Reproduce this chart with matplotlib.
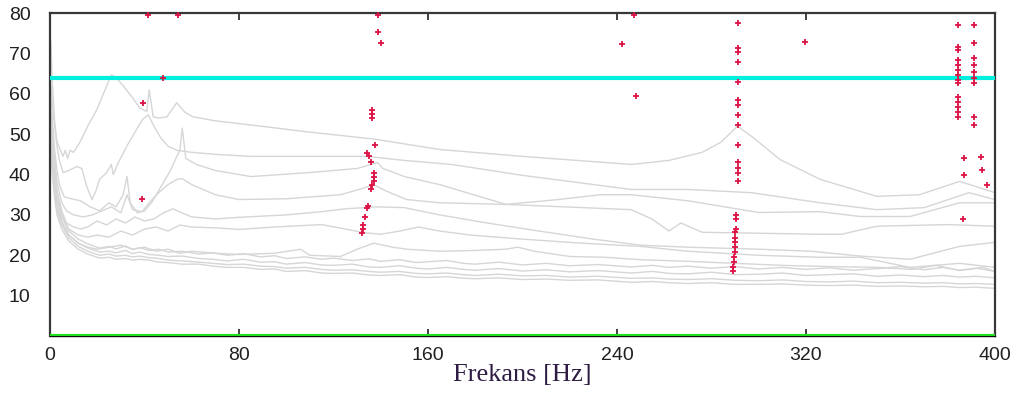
import matplotlib
matplotlib.use("Agg")
import matplotlib.pyplot as plt

# grey spectra (frequency Hz, level)
f1 = [0.4, 1, 2, 3, 4.5, 5.5, 6.5, 7.5, 8.5, 10, 12.7, 16, 19.8, 23, 26, 28, 31, 35, 38, 41, 42, 43.7, 46, 49.5,
      53.7, 57, 60.5, 70, 77.5, 89, 110, 137, 165, 200, 246, 262, 276, 284, 291, 298, 309, 326, 350, 368, 385, 392, 400]
v1 = [73, 63, 53, 48, 46, 44.5, 46, 44, 46, 45.5, 48, 52, 56, 60.5, 64.7, 64, 62, 59, 56.5, 55.6, 61, 54.3, 54, 54.3,
      57.8, 55.5, 54.3, 53.3, 52.8, 52, 50.5, 48.8, 46.2, 44.5, 42.5, 43.5, 45.5, 48, 52, 49, 43.7, 38.8, 34.6, 35, 38.3, 37, 35.5]

f2 = [0.4, 1, 2, 3, 4, 5.6, 8, 11.4, 13.5, 15.6, 17.8, 19.5, 21, 24, 26, 26.8, 29, 32.5, 36, 39, 41.6, 44, 47, 50,
      53.7, 60, 70, 85, 110, 134, 150, 170, 200, 246, 270, 297, 326, 350, 370, 389, 400]
v2 = [62, 58, 52, 47, 43.5, 40.5, 41, 42, 41.5, 37, 33.8, 36, 38.8, 40.5, 42.5, 40, 43, 47, 50.5, 53.5, 54.8, 52, 49, 47,
      46, 45.5, 45, 44.5, 44.5, 44.5, 43.5, 42.5, 39.8, 36.3, 36.3, 35.5, 33, 31.3, 31.8, 35.5, 33.8]

f3 = [0.4, 1, 2, 3, 4, 6, 9, 13, 17, 21, 25, 28, 31, 32.6, 34, 37, 40, 43, 47, 51, 53.7, 55, 56, 57.5, 62, 70, 85,
      110, 130, 136, 138.5, 141, 150, 165, 193, 246, 255, 262, 267, 276, 326, 335, 350, 380, 400]
v3 = [60, 54, 46, 41, 37.5, 34.5, 34, 33.5, 32, 31, 33, 32, 35, 39.5, 33, 30.5, 31, 33, 37, 41, 44.5, 46, 51.5, 44, 42.5, 41, 39.5,
      40.5, 41.5, 42.5, 43, 41.5, 39.5, 37.5, 32.6, 31.3, 28.9, 26, 28, 25.7, 25.2, 25.2, 27.2, 27.6, 27.2]

f4 = [0.4, 1, 2, 3, 5, 7, 10, 14, 18, 22, 26, 30, 32.6, 35, 39, 42, 46, 50, 53.7, 56, 60, 70, 80, 100, 123, 132, 137,
      142, 151, 165, 193, 215, 233, 246, 270, 300, 326, 343, 364, 385, 400]
v4 = [58, 52, 44, 38, 33, 31, 30, 29.5, 30, 31, 32, 30.5, 35, 31.3, 30.8, 33, 35.5, 37.5, 38.8, 39, 37.5, 35, 33.8, 34, 35, 36.5, 37.5,
      36, 33.8, 33, 32.6, 33.8, 35, 35, 33.5, 30.6, 30.8, 29.6, 29.6, 33, 33]

f5 = [0.4, 1, 2, 3, 5, 7, 10, 13, 16, 20, 24, 28, 32, 36, 40, 44, 48, 52, 56, 60, 70, 80, 100, 115, 125, 138, 150, 165,
      185, 207, 230, 250, 270, 300, 322, 343, 364, 385, 400]
v5 = [55, 50, 42, 36, 31, 28, 27, 26.5, 27, 28.5, 27.5, 29, 28, 29.5, 28.5, 29, 30.5, 31.5, 30.5, 29.5, 29, 29.4, 30, 30.8, 31.5, 32, 31.8, 30,
      28, 26, 24, 22.5, 22, 21.5, 21, 19.8, 19, 22.2, 23.2]

f6 = [0.4, 1, 2, 3, 5, 8, 12, 16, 20, 25, 30, 35, 40, 45, 50, 55, 60, 70, 80, 95, 115, 125, 133, 140, 148, 156, 165, 178,
      200, 225, 250, 270, 300, 326, 343, 364, 385, 400]
v6 = [52, 47, 40, 35, 30, 26.5, 25, 24.5, 25, 24.5, 26, 25, 26.5, 27, 26, 27.5, 27, 26.8, 26.4, 27, 27.6, 26.5, 25.6, 25.2, 26, 27, 26, 25,
      24, 23, 22.2, 21, 20, 19.5, 19.5, 17, 18, 17]

f7 = [0.4, 1, 2, 3, 5, 8, 12, 16, 20, 25, 30, 35, 40, 45, 50, 55, 60, 70, 80, 95, 106, 110, 123, 130, 137, 145, 151, 165,
      180, 193, 198, 205, 220, 235, 250, 270, 290, 310, 330, 350, 365, 375, 385, 395, 400]
v7 = [50, 44, 37, 32, 28, 25, 23, 22, 21.5, 22, 22.5, 21.5, 22, 21, 21.5, 20.5, 21, 20.5, 20.2, 20.5, 21.5, 20, 19.7, 21.5, 23, 22, 21.5, 21,
      21.2, 21.5, 22, 21, 19.7, 19.5, 18.9, 18.5, 18, 17.5, 17.2, 17, 16.5, 17.5, 16.2, 17, 16]

f_low = [0.4, 1, 2, 3, 5, 8, 12, 16, 21, 25, 28, 32, 35, 38, 42, 46, 50, 56, 63, 69, 75, 82, 89, 95, 100, 108, 115,
         120, 128, 135, 140, 148, 155, 160, 168, 175, 180, 190, 200, 210, 220, 232, 246, 255, 262, 270, 280, 290, 300,
         310, 320, 330, 340, 350, 360, 370, 378, 385, 392, 400]
v8 = [52, 46, 38.5, 34, 29.5, 26, 24, 22.8, 21.8, 22.2, 21.6, 22.3, 21.4, 21.9, 21.2, 21.5, 20.8, 21, 20.3, 20.6, 20,
      20.4, 19.6, 19.9, 19.2, 19.6, 19, 19.3, 18.7, 19.1, 18.5, 18.9, 18.2, 18.4, 18.7, 18, 17.8, 18.3, 17.6, 18, 17.4,
      17.7, 17.1, 17.5, 17, 17.3, 16.8, 17.2, 16.6, 17, 16.5, 16.9, 16.3, 16.7, 17.2, 16.4, 17, 16.3, 16.8, 16]
v9 = [50, 44, 37, 32.5, 28.5, 25, 23, 21.8, 20.8, 21, 20.6, 21.2, 20.4, 20.8, 20.2, 20, 19.7, 19.8, 19.2, 19, 18.6,
      19, 18.3, 18.4, 17.8, 18.2, 17.6, 17.5, 17.8, 17.1, 17, 17.4, 16.8, 16.6, 17, 16.5, 16.3, 16.7, 16.1, 16.4, 15.9,
      16.2, 15.6, 16, 15.5, 15.4, 15.8, 15.2, 15.3, 15.6, 15, 15.2, 15.4, 14.8, 15.1, 14.7, 15, 14.6, 14.8, 14.4]
v10 = [47, 42, 35.5, 31, 27.5, 24.3, 22.2, 21, 20, 20.3, 19.8, 20, 19.6, 19.8, 19.4, 19.2, 18.8, 18.6, 18.3, 18, 17.7,
       17.8, 17.3, 17.2, 16.8, 17, 16.5, 16.3, 16.4, 16, 15.8, 16, 15.5, 15.4, 15.6, 15.2, 15, 15.3, 14.9, 15, 14.6,
       14.8, 14.3, 14.4, 14.1, 14, 14.2, 13.8, 13.7, 13.9, 13.5, 13.4, 13.6, 13.2, 13.3, 13.1, 13.2, 12.9, 13, 12.8]
v11 = [45, 40, 34, 30, 26.5, 23.5, 21.5, 20.3, 19.3, 19.5, 19, 19.2, 18.8, 19, 18.8, 18.3, 18.2, 17.8, 17.8, 17.3, 17,
       17, 16.5, 16.6, 16, 16.2, 15.6, 15.5, 15.6, 15.1, 15, 15.2, 14.6, 14.5, 14.7, 14.3, 14.2, 14.4, 14, 14.1, 13.8,
       13.9, 13.3, 13.5, 13.2, 13, 13.2, 12.8, 12.8, 12.9, 12.6, 12.5, 12.6, 12.3, 12.4, 12.2, 12.3, 12, 12.1, 11.8]

curves = [(f1, v1), (f2, v2), (f3, v3), (f4, v4), (f5, v5), (f6, v6), (f7, v7),
          (f_low, v8), (f_low, v9), (f_low, v10), (f_low, v11)]

# red points
pk_f = [41.5, 54, 139, 247, 138.8, 140, 242, 248, 319.6, 48, 39.4, 39,
        136.5, 136.5, 136.5, 137.5, 134, 135, 136, 137, 137, 137, 136.5, 136, 134.5, 134, 133.5, 132.5, 132.5, 132,
        291.2, 291.2, 291.2, 291.2, 291.2, 291.2, 291.2, 291.2, 291.2, 291.2, 291, 291, 291, 291,
        290.5, 290.5, 290.5, 290, 290, 290, 290, 290, 289.5, 289.5, 289, 289,
        384.3, 384.3, 384.3, 384.3, 384.3, 384.3, 384.3, 384.3, 384.3, 384.5, 384.5, 384.5, 384.5, 384.5, 387, 387, 386.5,
        391, 391, 391, 391, 391, 391, 391, 391, 391, 394, 394.5, 396.5]
pk_v = [79.5, 79.5, 79.5, 79.5, 75.3, 72.6, 72.3, 59.5, 72.8, 64, 57.8, 34,
        56, 55, 54, 47.4, 45.4, 44.5, 43.2, 40.5, 39.5, 38.5, 37.5, 36.3, 32.3, 31.8, 29.6, 27.5, 26.5, 25.5,
        77.5, 71.4, 70.4, 67.9, 63, 58.5, 57.3, 54.8, 52.3, 47.4, 43, 41.7, 40.5, 38.3,
        30.1, 28.9, 26.4, 25.7, 24.4, 23.2, 22, 20.7, 19.5, 18.3, 17, 16,
        77, 71.6, 70.9, 68.4, 67.2, 65.9, 64.7, 63.5, 62.7, 59.3, 58, 56.8, 55.6, 54.3, 44.2, 39.9, 28.9,
        77, 72.6, 68.9, 67.2, 65.4, 64, 62.7, 54.3, 52.3, 44.4, 41.2, 37.5]

limit_level = 64

fig = plt.figure(figsize=(10.19, 3.96), dpi=100)
ax = fig.add_axes([0.049, 0.1515, 0.9275, 0.8155])

for f, v in curves:
    ax.plot(f, v, color="#d6d6d6", lw=1.0, zorder=2)

ax.axhline(limit_level, color="#00f0e0", lw=3, zorder=3)
ax.axhline(0, color="#20e020", lw=3, zorder=4)
ax.plot(pk_f, pk_v, "+", color="#dc1446", ms=4, mew=1.3, zorder=5, clip_on=False)

ax.set_xlim(0, 400)
ax.set_ylim(0, 80)
ax.set_xticks([0, 80, 160, 240, 320, 400])
ax.set_yticks([10, 20, 30, 40, 50, 60, 70, 80])
ax.tick_params(axis="x", direction="in", length=5, width=1.2, color="#202020",
               top=True, pad=8, labelsize=14, labelcolor="#202020")
ax.tick_params(axis="y", length=0, pad=14, labelsize=14, labelcolor="#202020")
for lbl in ax.get_xticklabels() + ax.get_yticklabels():
    lbl.set_fontfamily("Liberation Sans")

for s in ["left", "top", "right"]:
    ax.spines[s].set_color("#383838")
    ax.spines[s].set_linewidth(1.6)
ax.spines["bottom"].set_color("#101010")
ax.spines["bottom"].set_linewidth(1)

ax.set_xlabel("Frekans [Hz]", family="Liberation Serif", fontsize=19,
              color="#2e1c44", labelpad=0)

fig.savefig("out.png", dpi=100)
